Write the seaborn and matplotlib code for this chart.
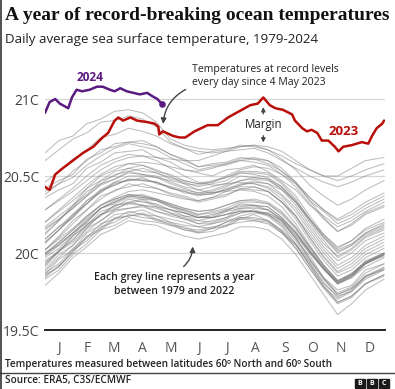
import pandas as pd
import matplotlib.pyplot as plt
import seaborn as sns
from matplotlib.lines import Line2D
from matplotlib.patches import Rectangle

# --- data ---
month_starts = [0, 31, 59, 90, 120, 151, 181, 212, 243, 273, 304, 334]
month_mids = [15, 45, 74, 105, 135, 166, 196, 227, 258, 288, 319, 349]
month_labels = ['J', 'F', 'M', 'A', 'M', 'J', 'J', 'A', 'S', 'O', 'N', 'D']
y_ticks = [19.5, 20.0, 20.5, 21.0]
y_labels = ['19.5C', '20C', '20.5C', '21C']

# grey years are sampled twice a month; values are hundredths of a degree above 20C
sample_days = [0, 15, 30, 45, 60, 75, 90, 105, 120, 135, 150, 165, 180,
               195, 210, 225, 240, 255, 270, 285, 300, 315, 330, 345, 365]

grey_1979_1988 = [
    [-15, -9, 2, 8, 17, 20, 25, 23, 22, 18, 17, 13, 16, 17, 22, 21, 20, 13, 5, -8, -22, -30, -25, -17, -11],
    [-11, -1, 5, 16, 21, 28, 29, 31, 27, 25, 23, 19, 21, 23, 28, 27, 26, 21, 9, -2, -16, -24, -21, -11, -7],
    [-13, -7, 3, 10, 19, 22, 27, 25, 24, 20, 18, 17, 16, 20, 22, 25, 21, 15, 6, -6, -20, -28, -25, -15, -11],
    [-17, -11, -1, 6, 15, 18, 23, 21, 20, 18, 15, 14, 16, 20, 24, 26, 25, 20, 11, 0, -10, -19, -14, -6, 0],
    [2, 9, 16, 24, 31, 35, 38, 37, 34, 30, 26, 23, 23, 25, 27, 27, 25, 18, 8, -5, -17, -27, -23, -15, -10],
    [-14, -9, 1, 10, 15, 22, 24, 25, 21, 19, 15, 13, 14, 18, 20, 21, 19, 13, 3, -10, -23, -33, -29, -20, -15],
    [-21, -13, -3, 4, 12, 16, 21, 19, 18, 14, 11, 9, 11, 13, 17, 17, 15, 9, -1, -14, -27, -40, -33, -24, -17],
    [-14, -4, 2, 13, 18, 25, 26, 28, 24, 22, 20, 17, 19, 22, 26, 27, 26, 21, 12, 0, -11, -20, -15, -7, -1],
    [-2, 5, 13, 20, 29, 33, 37, 36, 35, 32, 29, 27, 28, 31, 34, 35, 33, 27, 17, 4, -8, -18, -13, -6, -1],
    [0, 7, 15, 23, 31, 35, 38, 37, 35, 31, 27, 24, 23, 25, 27, 27, 24, 17, 6, -8, -21, -32, -28, -20, -14],
]
grey_1989_1998 = [
    [-16, -8, 0, 11, 16, 23, 24, 26, 22, 20, 16, 15, 17, 18, 23, 22, 21, 14, 5, -7, -19, -29, -24, -16, -10],
    [-5, 1, 11, 18, 27, 30, 35, 33, 32, 28, 26, 23, 25, 27, 32, 31, 30, 23, 14, 2, -10, -20, -16, -7, -2],
    [-8, 2, 8, 19, 24, 31, 32, 34, 30, 28, 24, 23, 23, 27, 29, 30, 28, 22, 13, 1, -10, -19, -14, -6, -1],
    [-6, 1, 9, 17, 25, 29, 32, 31, 29, 26, 22, 19, 19, 21, 23, 23, 21, 14, 3, -10, -22, -32, -28, -20, -14],
    [-12, -3, 5, 14, 21, 27, 29, 30, 27, 24, 22, 21, 20, 23, 26, 28, 25, 19, 10, -4, -16, -26, -22, -13, -7],
    [-9, 1, 7, 16, 25, 28, 33, 31, 30, 26, 24, 21, 23, 25, 29, 29, 28, 22, 13, 1, -10, -20, -15, -7, -1],
    [-1, 6, 13, 21, 29, 33, 37, 36, 34, 31, 28, 25, 26, 28, 31, 31, 28, 21, 10, -4, -17, -27, -23, -15, -9],
    [-7, 1, 11, 18, 25, 31, 33, 35, 31, 28, 26, 23, 24, 28, 30, 31, 30, 23, 13, 1, -10, -20, -16, -9, -3],
    [-1, 7, 15, 24, 31, 36, 40, 41, 39, 37, 35, 34, 36, 40, 44, 46, 45, 41, 33, 22, 12, 4, 8, 15, 20],
    [20, 28, 36, 44, 51, 56, 58, 57, 54, 50, 45, 41, 39, 40, 41, 40, 37, 30, 19, 5, -8, -18, -14, -6, 0],
]
grey_1999_2008 = [
    [0, 5, 13, 22, 29, 34, 37, 38, 35, 32, 29, 27, 28, 31, 34, 34, 32, 26, 16, 3, -9, -19, -15, -7, -1],
    [-3, 3, 12, 20, 29, 32, 36, 35, 34, 30, 28, 25, 27, 29, 33, 33, 32, 25, 16, 4, -8, -18, -14, -5, 0],
    [2, 11, 21, 28, 37, 40, 45, 43, 42, 38, 36, 33, 35, 37, 42, 41, 40, 33, 24, 12, 0, -10, -5, 3, 9],
    [7, 15, 25, 32, 41, 44, 48, 47, 46, 43, 41, 39, 41, 44, 47, 49, 48, 43, 34, 22, 11, 2, 6, 13, 18],
    [15, 22, 29, 37, 45, 48, 53, 51, 50, 46, 43, 41, 43, 45, 50, 49, 48, 41, 31, 18, 6, -2, 3, 11, 16],
    [9, 17, 23, 34, 39, 46, 47, 49, 45, 43, 39, 38, 38, 42, 44, 47, 45, 38, 29, 16, 4, -5, 0, 8, 13],
    [13, 21, 31, 38, 47, 50, 55, 53, 52, 48, 46, 43, 45, 47, 52, 51, 49, 43, 33, 20, 8, -3, 2, 10, 15],
    [7, 15, 23, 32, 40, 44, 48, 47, 46, 42, 40, 38, 40, 43, 47, 48, 47, 42, 33, 21, 10, 1, 5, 13, 19],
    [16, 22, 29, 37, 44, 48, 52, 51, 49, 45, 42, 39, 39, 41, 43, 43, 40, 33, 22, 8, -5, -15, -11, -3, 3],
    [2, 10, 19, 28, 35, 41, 43, 45, 42, 39, 37, 34, 36, 38, 41, 43, 40, 33, 24, 10, -2, -12, -7, 1, 7],
]
grey_2009_2022 = [
    [9, 17, 25, 34, 41, 46, 50, 50, 49, 47, 45, 44, 46, 50, 54, 56, 55, 51, 43, 32, 22, 14, 18, 25, 30],
    [28, 35, 42, 50, 57, 61, 64, 63, 60, 55, 50, 46, 44, 45, 46, 45, 42, 35, 24, 10, -3, -13, -9, -1, 5],
    [6, 15, 24, 32, 40, 45, 47, 48, 46, 42, 40, 37, 39, 41, 45, 45, 43, 37, 27, 14, 2, -8, -3, 5, 11],
    [12, 21, 30, 40, 45, 51, 53, 55, 52, 49, 47, 45, 46, 49, 52, 52, 51, 45, 35, 22, 10, 0, 5, 12, 17],
    [17, 24, 31, 42, 47, 53, 55, 57, 53, 51, 47, 45, 47, 49, 53, 53, 52, 46, 37, 24, 12, 3, 8, 16, 22],
    [20, 27, 34, 42, 50, 54, 58, 59, 58, 56, 54, 53, 55, 58, 61, 62, 60, 55, 46, 34, 23, 14, 19, 26, 31],
    [28, 34, 40, 47, 54, 59, 62, 63, 62, 61, 60, 60, 63, 66, 69, 70, 69, 66, 60, 54, 50, 50, 55, 60, 62],
    [65, 73, 76, 84, 87, 92, 93, 91, 85, 74, 70, 68, 67, 68, 69, 70, 67, 63, 58, 54, 50, 47, 50, 54, 58],
    [42, 47, 51, 61, 65, 71, 72, 73, 69, 64, 61, 56, 58, 59, 62, 61, 60, 53, 46, 36, 28, 21, 25, 31, 37],
    [36, 41, 45, 55, 59, 65, 66, 67, 62, 59, 54, 52, 50, 54, 55, 57, 53, 47, 41, 31, 24, 17, 21, 27, 33],
    [46, 53, 61, 67, 75, 77, 81, 79, 76, 71, 68, 64, 66, 67, 70, 69, 67, 61, 54, 44, 37, 31, 35, 41, 47],
    [60, 67, 74, 78, 85, 86, 89, 87, 82, 72, 68, 66, 65, 66, 67, 68, 65, 60, 55, 50, 46, 43, 46, 50, 54],
    [40, 45, 49, 57, 63, 68, 71, 69, 67, 62, 58, 54, 56, 57, 60, 59, 57, 51, 45, 34, 27, 19, 23, 29, 35],
    [38, 45, 53, 60, 67, 69, 72, 71, 69, 64, 60, 56, 57, 58, 60, 61, 58, 53, 45, 36, 28, 22, 27, 33, 39],
]
grey_years = list(range(1979, 2023))

days_2023 = [0, 2, 5, 11, 19, 30, 41, 52, 62, 68, 75, 79, 84, 92, 99, 110, 118, 122, 123,
             127, 138, 145, 151, 161, 175, 186, 197, 212, 221, 229, 235, 242, 248, 256,
             266, 269, 277, 282, 287, 293, 298, 305, 312, 316, 321, 330, 341, 348, 352,
             357, 363, 365]
temps_2023 = [20.43, 20.42, 20.41, 20.51, 20.55, 20.60, 20.65, 20.69, 20.75, 20.78, 20.86,
              20.88, 20.86, 20.88, 20.86, 20.85, 20.84, 20.82, 20.77, 20.79, 20.76, 20.75,
              20.75, 20.79, 20.83, 20.83, 20.88, 20.93, 20.96, 20.97, 21.01, 20.96, 20.94,
              20.93, 20.90, 20.86, 20.81, 20.79, 20.80, 20.78, 20.73, 20.73, 20.69, 20.66,
              20.69, 20.70, 20.72, 20.71, 20.76, 20.81, 20.84, 20.86]

days_2024 = [0, 5, 11, 16, 22, 25, 29, 34, 40, 48, 56, 62, 70, 75, 81, 88, 95, 102, 110,
             115, 121, 124, 126]
temps_2024 = [20.91, 20.98, 21.00, 20.97, 20.95, 20.94, 21.01, 21.06, 21.05, 21.06, 21.08,
              21.08, 21.06, 21.05, 21.07, 21.05, 21.04, 21.03, 21.04, 21.02, 21.00, 20.98,
              20.97]

RED = '#b80f0a'
PURPLE = '#5b1a80'
TXT = '#222222'

rows = []
for yr, vals in zip(grey_years, grey_1979_1988 + grey_1989_1998 + grey_1999_2008 + grey_2009_2022):
    for d, v in zip(sample_days, vals):
        rows.append((yr, d, 20 + v / 100))
df_grey = pd.DataFrame(rows, columns=['year', 'day', 'temp'])

sns.set_theme(style="white")
plt.rcParams['font.family'] = ['Open Sans', 'DejaVu Sans']

fig = plt.figure(figsize=(3.95, 3.89), dpi=100)
ax = fig.add_axes([45 / 395, 59 / 389, 340 / 395, 270 / 389])

for yv in [20.0, 20.5, 21.0]:
    ax.axhline(yv, color='#d6d6d6', lw=0.9, zorder=0)

sns.lineplot(data=df_grey, x='day', y='temp', units='year', estimator=None,
             color='#7c7c7c', alpha=0.5, lw=0.75, ax=ax)
sns.lineplot(x=days_2023, y=temps_2023, color=RED, lw=1.8, ax=ax)
sns.lineplot(x=days_2024, y=temps_2024, color=PURPLE, lw=1.8, ax=ax)
ax.scatter([days_2024[-1]], [temps_2024[-1]], s=14, color=PURPLE, zorder=5)

ax.set_xlim(0, 366)
ax.set_ylim(19.5, 19.5 + 270 / 154)
ax.set_xlabel('')
ax.set_ylabel('')
for s in ['top', 'right', 'left']:
    ax.spines[s].set_visible(False)
ax.spines['bottom'].set_color('#222222')
ax.spines['bottom'].set_linewidth(1.4)

ax.set_yticks(y_ticks)
ax.set_yticklabels(y_labels)
ax.tick_params(axis='y', length=0, pad=4, labelsize=10, labelcolor='#444444')
ax.set_xticks(month_starts)
ax.set_xticklabels([''] * 12)
ax.set_xticks(month_mids, minor=True)
ax.set_xticklabels(month_labels, minor=True)
ax.tick_params(axis='x', which='major', direction='out', length=3.5, width=1, color='#222222')
ax.tick_params(axis='x', which='minor', length=0, pad=8, labelsize=10, labelcolor='#555555')

# labels and annotations
ax.text(48, 21.14, '2024', color=PURPLE, fontsize=8.5, fontweight='bold', ha='center', va='center')
ax.text(321, 20.79, '2023', color=RED, fontsize=9.5, fontweight='bold', ha='center', va='center')

ax.text(158, 21.15, 'Temperatures at record levels\nevery day since 4 May 2023', color=TXT,
        fontsize=7.6, ha='left', va='center', linespacing=1.25)
ax.annotate('', xy=(127, 20.82), xytext=(154, 21.07),
            arrowprops=dict(arrowstyle='-|>', color='#444444', lw=1,
                            connectionstyle='arc3,rad=0.3', mutation_scale=8))

ax.text(235, 20.835, 'Margin', color=TXT, fontsize=8.3, ha='center', va='center')
ax.annotate('', xy=(235, 20.965), xytext=(235, 20.885),
            arrowprops=dict(arrowstyle='-|>', color='#444444', lw=0.9, mutation_scale=6))
ax.annotate('', xy=(235, 20.70), xytext=(235, 20.78),
            arrowprops=dict(arrowstyle='-|>', color='#444444', lw=0.9, mutation_scale=6))

ax.text(139, 19.795, 'Each grey line represents a year\nbetween 1979 and 2022', color=TXT,
        fontsize=7.6, fontweight='semibold', ha='center', va='center', linespacing=1.3)
ax.annotate('', xy=(159, 20.06), xytext=(147, 19.90),
            arrowprops=dict(arrowstyle='-|>', color='#444444', lw=1,
                            connectionstyle='arc3,rad=0.25', mutation_scale=8))

# title block and footer
fig.text(5 / 395, 1 - 15 / 389, 'A year of record-breaking ocean temperatures',
         family='Liberation Serif', fontweight='bold', fontsize=14, color='#111111', va='center')
fig.text(5 / 395, 1 - 39 / 389, 'Daily average sea surface temperature, 1979-2024',
         fontsize=9.6, color='#222222', va='center')
fig.text(5 / 395, 1 - 364 / 389, 'Temperatures measured between latitudes 60º North and 60º South',
         fontsize=7.2, fontweight='semibold', color='#222222', va='center')
fig.add_artist(Line2D([0, 1], [1 - 373 / 389] * 2, color='#444444', lw=1))
fig.text(5 / 395, 1 - 381 / 389, 'Source: ERA5, C3S/ECMWF',
         fontsize=7.2, fontweight='semibold', color='#222222', va='center')
fig.add_artist(Line2D([1 / 395] * 2, [0, 1], color='#333333', lw=1.2))

for i, letter in enumerate('BBC'):
    x0 = 355 + i * 12
    fig.add_artist(Rectangle((x0 / 395, 1 / 389), 10 / 395, 9 / 389,
                             color='#1a1a1a', transform=fig.transFigure))
    fig.text((x0 + 5) / 395, 1 - 383.5 / 389, letter, color='white', fontsize=5,
             fontweight='bold', ha='center', va='center')

fig.savefig('out.png', dpi=100)
